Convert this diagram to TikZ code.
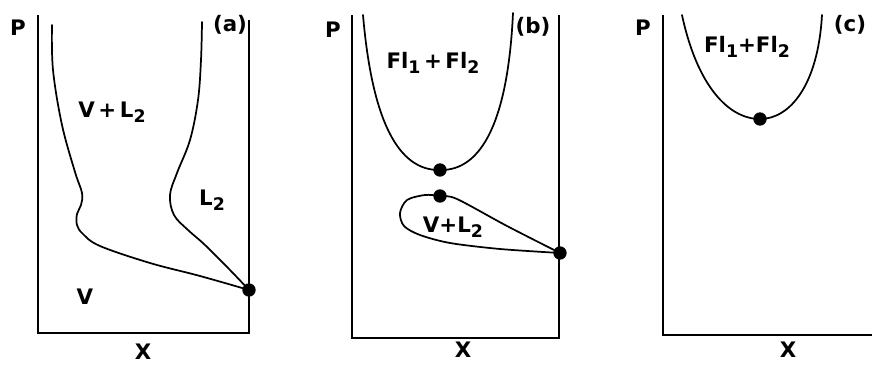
\documentclass[tikz,border=0pt]{standalone}
\usepackage{fontspec}
\setmainfont{DejaVu Sans}
\newcommand{\subnum}[1]{\raisebox{-0.4ex}{\fontsize{13}{13}\selectfont #1}}
\begin{document}
\begin{tikzpicture}[x=0.75pt,y=-0.75pt,
  axis/.style={line width=1.5pt,line join=miter},
  curve/.style={line width=1.3pt,line cap=round},
  lbl/.style={font=\fontsize{16}{17}\selectfont\bfseries,inner sep=0pt},
  dot/.style={circle,fill=black,inner sep=0pt,minimum size=10pt}]
\useasboundingbox (0,0) rectangle (872,371);
% panel (a)
\draw[axis] (38,15) -- (38,333) -- (249,333) -- (249,20);
\draw[curve] plot[smooth,tension=0.6] coordinates {(52,25) (53,70) (62,125) (75,172) (82,193) (81,205) (77,214) (77,225) (83,234) (100,246) (150,263) (200,276) (249,290)};
\draw[curve] plot[smooth,tension=0.6] coordinates {(202,22) (201,60) (198,100) (190,140) (177,173) (170,195) (174,215) (188,230) (205,245) (230,270) (249,290)};
\node[dot] (da) at (249,290) {};
\node[lbl] (Pa) at (18,28) {P};
\node[lbl] (ta) at (230,25) {(a)};
\node[lbl] (vla) at (112,112) {V\,+\,L\subnum{2}};
\node[lbl] (la) at (212,200) {L\subnum{2}};
\node[lbl] (va) at (85,297) {V};
\node[lbl] (xa) at (143,352) {X};
% panel (b)
\draw[axis] (352,15) -- (352,338) -- (559,338) -- (559,15);
\node[dot] (db1) at (440,170) {};
\draw[curve] (363,15) .. controls (372,120) and (398,171) .. (db1.center) .. controls (482,171) and (508,120) .. (513,13);
\draw[curve] plot[smooth,tension=0.5] coordinates {(560,253) (507,226) (457,199) (440,196) (425,195) (407,200) (400,213) (404,226) (420,235) (450,243) (500,249) (560,253)};
\node[dot] (db2) at (440,196) {};
\node[dot] (db3) at (560,253) {};
\node[lbl] (Pb) at (333,30) {P};
\node[lbl] (tb) at (533,27) {(b)};
\node[lbl] (flb) at (433,63) {Fl\subnum{1}\,+\,Fl\subnum{2}};
\node[lbl] (vlb) at (453,227) {V+L\subnum{2}};
\node[lbl] (xb) at (463,350) {X};
% panel (c)
\draw[axis] (663,15) -- (663,335) -- (872,335);
\node[dot] (dc) at (760,119) {};
\draw[curve] (682,15) .. controls (697,85) and (728,119) .. (dc.center) .. controls (790,119) and (818,85) .. (822,15);
\node[lbl] (Pc) at (643,28) {P};
\node[lbl] (tc) at (850,25) {(c)};
\node[lbl] (flc) at (747,47) {Fl\subnum{1}+Fl\subnum{2}};
\node[lbl] (xc) at (788,350) {X};
\end{tikzpicture}
\end{document}
